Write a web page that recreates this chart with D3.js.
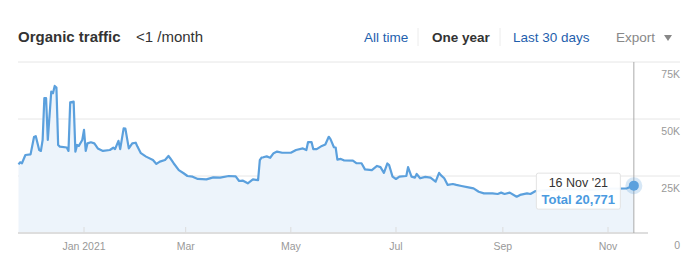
<!DOCTYPE html>
<html>
<head>
<meta charset="utf-8">
<script src="https://cdn.jsdelivr.net/npm/d3@7"></script>
<style>
    body { margin: 0; background: #fff; }
    svg { display: block; font-family: "Helvetica Neue", Arial, "Liberation Sans", sans-serif; }
</style>
</head>
<body>
<svg id="chart" width="700" height="267"></svg>
<script>
// daily organic traffic
const dates = [
    "2020-11-24", "2020-11-25", "2020-11-26", "2020-11-28", "2020-12-01", "2020-12-03", "2020-12-04",
    "2020-12-06", "2020-12-07", "2020-12-08", "2020-12-09", "2020-12-10", "2020-12-11", "2020-12-13",
    "2020-12-14", "2020-12-15", "2020-12-16", "2020-12-17", "2020-12-18", "2020-12-22", "2020-12-23",
    "2020-12-24", "2020-12-26", "2020-12-27", "2020-12-28", "2020-12-29", "2020-12-31", "2021-01-01",
    "2021-01-02", "2021-01-03", "2021-01-05", "2021-01-07", "2021-01-09", "2021-01-12", "2021-01-16",
    "2021-01-18", "2021-01-19", "2021-01-21", "2021-01-22", "2021-01-24", "2021-01-25", "2021-01-27",
    "2021-01-29", "2021-01-31", "2021-02-01", "2021-02-03", "2021-02-06", "2021-02-10", "2021-02-12",
    "2021-02-14", "2021-02-17", "2021-02-19", "2021-02-20", "2021-02-22", "2021-02-25", "2021-02-28",
    "2021-03-02", "2021-03-05", "2021-03-08", "2021-03-13", "2021-03-17", "2021-03-21", "2021-03-26",
    "2021-03-30", "2021-04-01", "2021-04-03", "2021-04-06", "2021-04-09", "2021-04-12", "2021-04-13",
    "2021-04-14", "2021-04-15", "2021-04-17", "2021-04-19", "2021-04-21", "2021-04-23", "2021-04-26",
    "2021-05-01", "2021-05-04", "2021-05-08", "2021-05-10", "2021-05-11", "2021-05-13", "2021-05-14",
    "2021-05-16", "2021-05-19", "2021-05-21", "2021-05-23", "2021-05-24", "2021-05-26", "2021-05-27",
    "2021-05-28", "2021-05-30", "2021-06-01", "2021-06-06", "2021-06-08", "2021-06-11", "2021-06-13",
    "2021-06-17", "2021-06-20", "2021-06-22", "2021-06-24", "2021-06-26", "2021-06-27", "2021-06-29",
    "2021-07-01", "2021-07-03", "2021-07-07", "2021-07-08", "2021-07-10", "2021-07-12", "2021-07-13",
    "2021-07-15", "2021-07-18", "2021-07-21", "2021-07-24", "2021-07-26", "2021-07-27", "2021-07-29",
    "2021-07-31", "2021-08-03", "2021-08-05", "2021-08-08", "2021-08-12", "2021-08-15", "2021-08-18",
    "2021-08-21", "2021-08-26", "2021-08-29", "2021-08-31", "2021-09-02", "2021-09-05", "2021-09-09",
    "2021-09-11", "2021-09-15", "2021-09-17", "2021-09-20", "2021-09-28", "2021-10-10", "2021-10-22",
    "2021-11-02", "2021-11-12", "2021-11-16"
];
const traffic = [
    30100, 31000, 30600, 34200, 34500, 42100, 42500,
    36400, 36000, 40800, 59200, 59200, 40800, 62000,
    61300, 64500, 63800, 38600, 37900, 37500, 36000,
    57300, 57600, 35700, 38600, 38200, 40800, 45200,
    36000, 39300, 39800, 39300, 37100, 36000, 36400,
    37400, 36800, 40400, 36800, 45900, 45800, 37100,
    39300, 39600, 37900, 35000, 33500, 32000, 30300,
    31300, 32000, 33800, 32800, 30600, 27600, 26100,
    25000, 24700, 23700, 23500, 24400, 24300, 25000,
    24800, 22800, 23000, 21800, 23500, 23200, 32000,
    33100, 33200, 33600, 33000, 35000, 35700, 35200,
    35200, 36400, 37100, 36400, 39900, 39900, 36800,
    36800, 38200, 38800, 42200, 41200, 37600, 37500,
    32200, 32500, 31800, 31700, 30600, 30600, 27900,
    27600, 29400, 28900, 26400, 30500, 29800, 24700,
    23700, 24700, 25000, 28900, 24700, 24300, 25900,
    24000, 24600, 24300, 22500, 26400, 25400, 24000,
    21100, 21500, 21100, 20600, 20000, 19600, 18100,
    17400, 17400, 17100, 17700, 17100, 17700, 15900,
    16700, 17400, 17100, 18400, 18900, 19300, 18900,
    19500, 19600, 20771
];
const yTicks = [0, 25000, 50000, 75000];
const yTickLabels = ["0", "25K", "50K", "75K"];
const xTicks = ["2021-01-01", "2021-03-01", "2021-05-01", "2021-07-01", "2021-09-01", "2021-11-01"];
const xTickLabels = ["Jan 2021", "Mar", "May", "Jul", "Sep", "Nov"];
const periods = ["All time", "One year", "Last 30 days"];

const parse = d3.timeParse("%Y-%m-%d");
const data = dates.map((d, i) => ({date: parse(d), value: traffic[i]}));
const last = data[data.length - 1];

const plotLeft = 18, plotRight = 680, plotTop = 62, plotBottom = 233;
const lineColor = "#5ba0dd";

const svg = d3.select("#chart");

const x = d3.scaleTime()
    .domain([parse("2021-01-01"), parse("2021-11-01")])
    .range([84, 608]);
const y = d3.scaleLinear()
    .domain([0, 75000])
    .range([plotBottom, plotTop]);

// header
const header = svg.append("g");
header.append("text").attr("x", 18).attr("y", 42)
    .attr("font-size", 15).attr("font-weight", "bold").attr("fill", "#333")
    .text("Organic traffic");
header.append("text").attr("x", 136).attr("y", 42)
    .attr("font-size", 15).attr("fill", "#333")
    .text("<1 /month");

const periodX = [364, 432, 513];
periods.forEach((p, i) => {
    header.append("text").attr("x", periodX[i]).attr("y", 42)
        .attr("font-size", 13.5)
        .attr("font-weight", i === 1 ? "bold" : "normal")
        .attr("fill", i === 1 ? "#333" : "#1f5fad")
        .text(p);
});
[418, 500].forEach(sx => header.append("line")
    .attr("x1", sx).attr("x2", sx).attr("y1", 28).attr("y2", 46)
    .attr("stroke", "#ececec"));
header.append("text").attr("x", 616).attr("y", 42)
    .attr("font-size", 13.5).attr("fill", "#888").text("Export");
header.append("path").attr("d", "M664,35 L672,35 L668,41 Z").attr("fill", "#888");

// grid
svg.append("g").selectAll("line")
    .data(yTicks.filter(d => d > 0))
    .join("line")
    .attr("x1", plotLeft).attr("x2", plotRight)
    .attr("y1", d => y(d)).attr("y2", d => y(d))
    .attr("stroke", "#e6e6e6");

svg.append("g").selectAll("text")
    .data(yTicks)
    .join("text")
    .attr("x", plotRight).attr("y", d => y(d) + 16)
    .attr("text-anchor", "end")
    .attr("font-size", 10.5).attr("fill", "#999")
    .text((d, i) => yTickLabels[i]);

// area + line
const area = d3.area()
    .x(d => x(d.date)).y0(y(0)).y1(d => y(d.value));
const line = d3.line()
    .x(d => x(d.date)).y(d => y(d.value));

svg.append("path").datum(data)
    .attr("d", area).attr("fill", "#edf4fb");

// bottom axis
svg.append("line")
    .attr("x1", plotLeft).attr("x2", 648).attr("y1", plotBottom).attr("y2", plotBottom)
    .attr("stroke", "#dedede").attr("stroke-width", 2);

const xAxis = svg.append("g");
xAxis.selectAll("line")
    .data(xTicks)
    .join("line")
    .attr("x1", d => x(parse(d))).attr("x2", d => x(parse(d)))
    .attr("y1", plotBottom - 6).attr("y2", plotBottom)
    .attr("stroke", "#dcdcdc");
xAxis.selectAll("text")
    .data(xTicks)
    .join("text")
    .attr("x", d => x(parse(d))).attr("y", 250)
    .attr("text-anchor", "middle")
    .attr("font-size", 10.5).attr("fill", "#999")
    .text((d, i) => xTickLabels[i]);

svg.append("path").datum(data)
    .attr("d", line).attr("fill", "none")
    .attr("stroke", lineColor).attr("stroke-width", 2.2)
    .attr("stroke-linejoin", "round");

// hover cursor
const cx = x(last.date), cy = y(last.value);
svg.append("line")
    .attr("x1", cx).attr("x2", cx).attr("y1", plotTop).attr("y2", plotBottom)
    .attr("stroke", "#aaa");
svg.append("circle").attr("cx", cx).attr("cy", cy).attr("r", 8.5)
    .attr("fill", lineColor).attr("opacity", 0.25);
svg.append("circle").attr("cx", cx).attr("cy", cy).attr("r", 5)
    .attr("fill", lineColor);

const tip = svg.append("g").attr("transform", `translate(${cx - 98},${cy - 13})`);
tip.append("rect").attr("x", 0.5).attr("y", 0.5).attr("width", 84).attr("height", 36)
    .attr("rx", 2).attr("fill", "#fff").attr("fill-opacity", 0.95)
    .attr("stroke", "#e3e3e3");
tip.append("text").attr("x", 42.5).attr("y", 14)
    .attr("text-anchor", "middle").attr("font-size", 12.5).attr("fill", "#333")
    .text(d3.timeFormat("%-d %b '%y")(last.date));
tip.append("text").attr("x", 42.5).attr("y", 31)
    .attr("text-anchor", "middle").attr("font-size", 13).attr("font-weight", "bold")
    .attr("fill", "#4a9ae0")
    .text("Total " + d3.format(",")(last.value));
</script>
</body>
</html>
